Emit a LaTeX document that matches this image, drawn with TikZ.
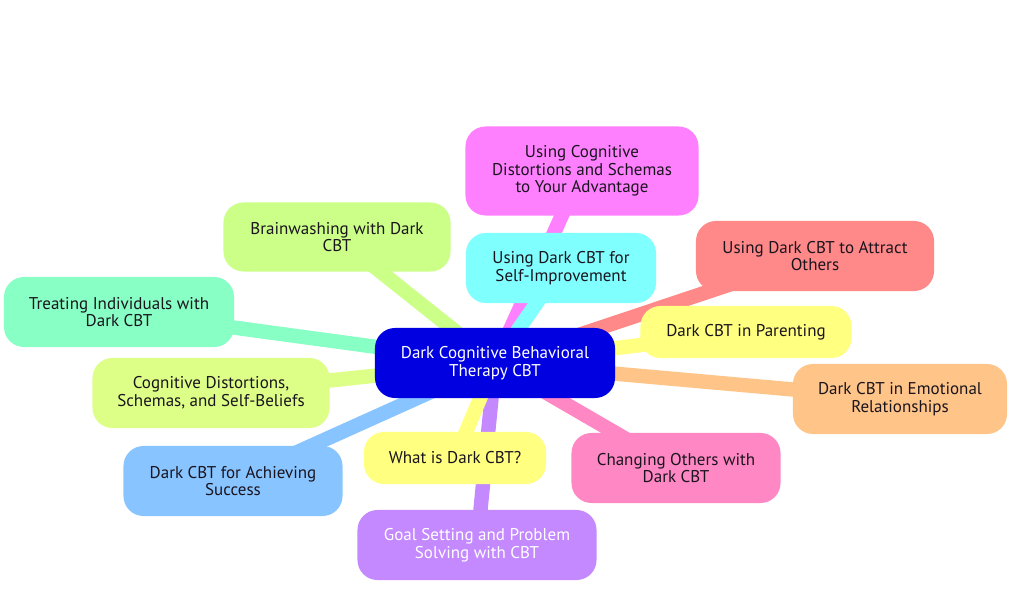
\documentclass[tikz,border=0pt]{standalone}
\usepackage{fontspec}
\setmainfont{PT Sans}
\usepackage{xcolor}
\usetikzlibrary{
    positioning,
    backgrounds
}
\definecolor{rootblue}{RGB}{0,0,224}
\definecolor{textdark}{RGB}{26,20,30}
\definecolor{magentapink}{RGB}{255,128,255}
\definecolor{lightcyan}{RGB}{128,255,255}
\definecolor{limegreen}{RGB}{204,255,136}
\definecolor{salmonred}{RGB}{255,136,136}
\definecolor{paleyellow}{RGB}{255,255,128}
\definecolor{peachorange}{RGB}{255,196,136}
\definecolor{rosepink}{RGB}{255,136,196}
\definecolor{lavender}{RGB}{196,136,255}
\definecolor{skyblue}{RGB}{136,196,255}
\definecolor{yellowgreen}{RGB}{221,255,136}
\definecolor{mintgreen}{RGB}{136,255,196}

\begin{document}
\begin{tikzpicture}[
        x=0.025cm, y=-0.025cm,
        topic/.style={draw=none, fill=#1, rounded corners=0.5cm, align=center,
            text=textdark, inner sep=0pt, font=\fontsize{12.1}{12.6}\selectfont},
        branch/.style={line width=0.36cm, draw=#1}
    ]
        \useasboundingbox (0,0) rectangle (1024,591);

        % Central topic
        \node[topic=rootblue, text=white, minimum width=6cm, minimum height=1.75cm] (root) at (495,363)
            {Dark Cognitive Behavioral\\Therapy CBT};

        % Branch nodes
        \node[topic=magentapink, minimum width=5.825cm, minimum height=2.225cm] (advantage) at (582,171)
            {Using Cognitive\\Distortions and Schemas\\to Your Advantage};
        \node[topic=lightcyan, minimum width=4.75cm, minimum height=1.75cm] (selfimp) at (561,268)
            {Using Dark CBT for\\Self-Improvement};
        \node[topic=limegreen, minimum width=5.675cm, minimum height=1.725cm] (brainwash) at (337,237)
            {Brainwashing with Dark\\CBT};
        \node[topic=salmonred, minimum width=5.95cm, minimum height=1.75cm] (attract) at (815,256)
            {Using Dark CBT to Attract\\Others};
        \node[topic=paleyellow, minimum width=5.275cm, minimum height=1.3cm] (parenting) at (746,332)
            {Dark CBT in Parenting};
        \node[topic=peachorange, minimum width=5.35cm, minimum height=1.75cm] (emotional) at (900,399)
            {Dark CBT in Emotional\\Relationships};
        \node[topic=rosepink, minimum width=5.225cm, minimum height=1.75cm] (changing) at (676,468)
            {Changing Others with\\Dark CBT};
        \node[topic=lavender, text=white, minimum width=5.975cm, minimum height=1.75cm] (goal) at (477,545)
            {Goal Setting and Problem\\Solving with CBT};
        \node[topic=paleyellow, minimum width=4.55cm, minimum height=1.3cm] (whatis) at (455,458)
            {What is Dark CBT?};
        \node[topic=skyblue, minimum width=5.475cm, minimum height=1.75cm] (success) at (233,481)
            {Dark CBT for Achieving\\Success};
        \node[topic=yellowgreen, minimum width=5.925cm, minimum height=1.75cm] (distort) at (211,393)
            {Cognitive Distortions,\\Schemas, and Self-Beliefs};
        \node[topic=mintgreen, minimum width=5.75cm, minimum height=1.75cm] (treating) at (119,312)
            {Treating Individuals with\\Dark CBT};

        % Connectors
        \begin{scope}[on background layer]
        \foreach \j/\c in {advantage/magentapink, selfimp/lightcyan, brainwash/limegreen,
                attract/salmonred, parenting/paleyellow, emotional/peachorange,
                changing/rosepink, goal/lavender, whatis/paleyellow, success/skyblue,
                distort/yellowgreen, treating/mintgreen} {
            \draw[branch=\c] (root.center) -- (\j.center);
        }
        \end{scope}

    \end{tikzpicture}
\end{document}
